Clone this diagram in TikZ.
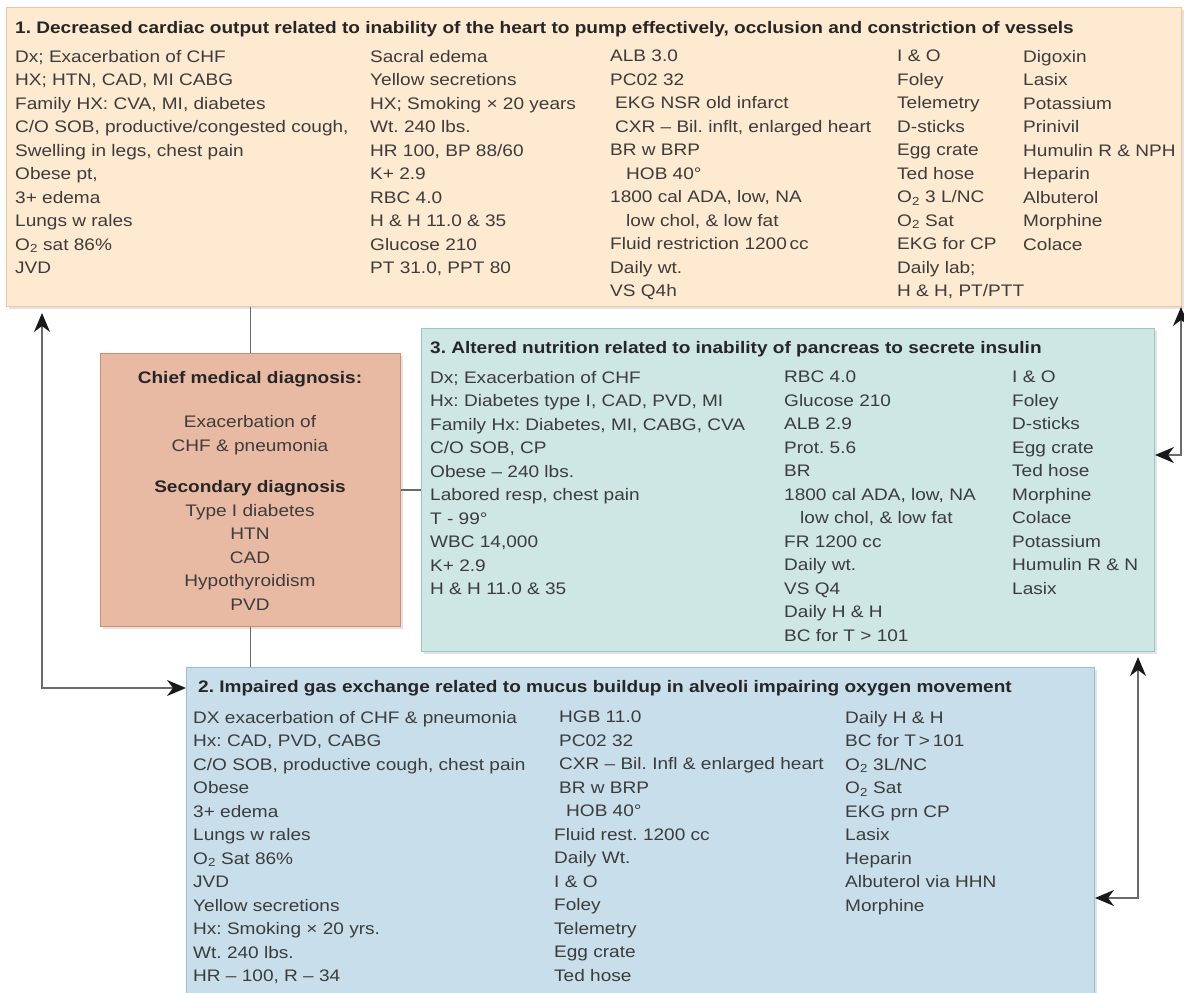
\documentclass[tikz,border=0pt]{standalone}
\usepackage{fontspec}
\setmainfont[FakeStretch=1.14]{Liberation Sans}
\usetikzlibrary{arrows.meta, shadows}
\definecolor{CardiacFill}{RGB}{253,234,208}
\definecolor{CardiacLine}{RGB}{238,198,162}
\definecolor{ChiefFill}{RGB}{233,186,163}
\definecolor{ChiefLine}{RGB}{206,142,114}
\definecolor{NutriFill}{RGB}{206,230,228}
\definecolor{NutriLine}{RGB}{152,200,196}
\definecolor{GasFill}{RGB}{200,222,235}
\definecolor{GasLine}{RGB}{152,190,214}
\definecolor{InkGray}{RGB}{60,60,60}
\newcommand{\bodysize}{\fontsize{16.7}{23.5}\selectfont}
\newcommand{\Otwo}{O\textsubscript{2}}
\frenchspacing

\begin{document}
\begin{tikzpicture}[
        x=1pt, y=-1pt,
        panel/.style={rectangle, draw, line width=1pt, anchor=north west, inner sep=0pt,
            drop shadow={shadow xshift=2.5pt, shadow yshift=-2.5pt, opacity=0.22}},
        head/.style={anchor=base west, inner sep=0pt, font=\bodysize\bfseries, text=black!85},
        col/.style={anchor=north west, inner sep=0pt, align=left, font=\bodysize, text=InkGray},
        link/.style={draw, line width=1.6pt, color=black!58},
        duo/.style={link, {Stealth[length=19pt, width=16pt, inset=6pt, color=black!90]}-{Stealth[length=19pt, width=16pt, inset=6pt, color=black!90]}}
    ]
        \path[use as bounding box, fill=white] (0,0) rectangle (1184,993);

        \node[panel, fill=CardiacFill, draw=CardiacLine, minimum width=1175pt, minimum height=299pt] (cardiac) at (6,7) {};
        \node[panel, fill=ChiefFill, draw=ChiefLine, minimum width=300pt, minimum height=273pt] (chief) at (100,353) {};
        \node[panel, fill=NutriFill, draw=NutriLine, minimum width=733pt, minimum height=323pt] (nutrition) at (421,328) {};
        \node[panel, fill=GasFill, draw=GasLine, minimum width=908pt, minimum height=350pt] (gas) at (186,667) {};

        \node[head] (cardiacT) at (15,33) {1. Decreased cardiac output related to inability of the heart to pump effectively, occlusion and constriction of vessels};
        \node[col] (cardiacA) at (15,50) {Dx; Exacerbation of CHF\\ HX; HTN, CAD, MI CABG\\ Family HX: CVA, MI, diabetes\\ C/O SOB, productive/congested cough,\\ Swelling in legs, chest pain\\ Obese pt,\\ 3+ edema\\ Lungs w rales\\ \Otwo{} sat 86\%\\ JVD};
        \node[col] (cardiacB) at (370,50) {Sacral edema\\ Yellow secretions\\ HX; Smoking × 20 years\\ Wt. 240 lbs.\\ HR 100, BP 88/60\\ K+ 2.9\\ RBC 4.0\\ H \& H 11.0 \& 35\\ Glucose 210\\ PT 31.0, PPT 80};
        \node[col] (cardiacC) at (610,50) {ALB 3.0\\ PC02 32\\ \hspace*{5pt}EKG NSR old infarct\\ \hspace*{5pt}CXR – Bil. inflt, enlarged heart\\ BR w BRP\\ \hspace*{16pt}HOB 40°\\ 1800 cal ADA, low, NA\\ \hspace*{16pt}low chol, \& low fat\\ Fluid restriction 1200\,cc\\ Daily wt.\\ VS Q4h};
        \node[col] (cardiacD) at (897,50) {I \& O\\ Foley\\ Telemetry\\ D-sticks\\ Egg crate\\ Ted hose\\ \Otwo{} 3 L/NC\\ \Otwo{} Sat\\ EKG for CP\\ Daily lab;\\ H \& H, PT/PTT};
        \node[col] (cardiacE) at (1023,50) {Digoxin\\ Lasix\\ Potassium\\ Prinivil\\ Humulin R \& NPH\\ Heparin\\ Albuterol\\ Morphine\\ Colace};

        \node[anchor=north, inner sep=0pt, align=center, font=\bodysize, text=InkGray] (chiefT) at (250,371) {\textbf{\color{black!85}Chief medical diagnosis:}\\[21pt] Exacerbation of\\ CHF \& pneumonia\\[18pt] \textbf{\color{black!85}Secondary diagnosis}\\ Type I diabetes\\ HTN\\ CAD\\ Hypothyroidism\\ PVD};

        \node[head] (nutritionT) at (430,353) {3. Altered nutrition related to inability of pancreas to secrete insulin};
        \node[col] (nutritionA) at (430,371) {Dx; Exacerbation of CHF\\ Hx: Diabetes type I, CAD, PVD, MI\\ Family Hx: Diabetes, MI, CABG, CVA\\ C/O SOB, CP\\ Obese – 240 lbs.\\ Labored resp, chest pain\\ T - 99°\\ WBC 14,000\\ K+ 2.9\\ H \& H 11.0 \& 35};
        \node[col] (nutritionB) at (784,371) {RBC 4.0\\ Glucose 210\\ ALB 2.9\\ Prot. 5.6\\ BR\\ 1800 cal ADA, low, NA\\ \hspace*{16pt}low chol, \& low fat\\ FR 1200 cc\\ Daily wt.\\ VS Q4\\ Daily H \& H\\ BC for T > 101};
        \node[col] (nutritionC) at (1012,371) {I \& O\\ Foley\\ D-sticks\\ Egg crate\\ Ted hose\\ Morphine\\ Colace\\ Potassium\\ Humulin R \& N\\ Lasix};

        \node[head] (gasT) at (198,692) {2. Impaired gas exchange related to mucus buildup in alveoli impairing oxygen movement};
        \node[col] (gasA) at (193,711) {DX exacerbation of CHF \& pneumonia\\ Hx: CAD, PVD, CABG\\ C/O SOB, productive cough, chest pain\\ Obese\\ 3+ edema\\ Lungs w rales\\ \Otwo{} Sat 86\%\\ JVD\\ Yellow secretions\\ Hx: Smoking × 20 yrs.\\ Wt. 240 lbs.\\ HR – 100, R – 34};
        \node[col] (gasB) at (554,711) {\hspace*{5pt}HGB 11.0\\ \hspace*{5pt}PC02 32\\ \hspace*{5pt}CXR – Bil. Infl \& enlarged heart\\ \hspace*{5pt}BR w BRP\\ \hspace*{12pt}HOB 40°\\ Fluid rest. 1200 cc\\ Daily Wt.\\ I \& O\\ Foley\\ Telemetry\\ Egg crate\\ Ted hose};
        \node[col] (gasC) at (845,711) {Daily H \& H\\ BC for T\,>\,101\\ \Otwo{} 3L/NC\\ \Otwo{} Sat\\ EKG prn CP\\ Lasix\\ Heparin\\ Albuterol via HHN\\ Morphine};

        \coordinate (lbend) at (42,688);
        \coordinate (rbend) at (1181,455);
        \coordinate (bbend) at (1138,898);

        \path [link] (cardiac.south -| chief.north) -- (chief.north);
        \path [link] (chief.east) -- (chief.east -| nutrition.west);
        \path [link] (chief.south) -- (chief.south |- gas.north);
        \path [duo, shorten <=6pt] (cardiac.south -| lbend) -- (lbend) -- (lbend -| gas.west);
        \path [duo] (cardiac.south -| rbend) -- (rbend) -- (rbend -| nutrition.east);
        \path [duo, shorten <=5pt] (nutrition.south -| bbend) -- (bbend) -- (bbend -| gas.east);
    \end{tikzpicture}
\end{document}
